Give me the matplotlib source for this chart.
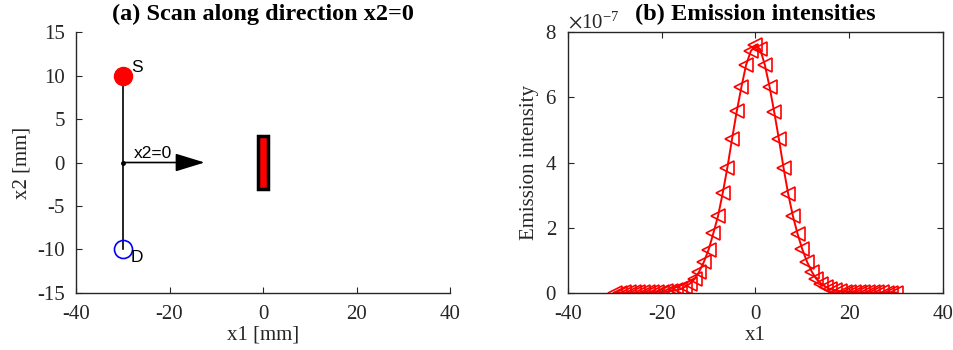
import matplotlib.pyplot as plt
import matplotlib.patches as patches
from matplotlib.ticker import ScalarFormatter
import numpy as np

plt.rcParams['font.family'] = ['Liberation Serif', 'DejaVu Serif']
plt.rcParams['mathtext.fontset'] = 'stix'
plt.rcParams['axes.unicode_minus'] = False

# source / detector geometry (mm)
src = (-30, 10)
det = (-30, -10)
scan_start = (-30, 0)
scan_end = (-12.5, 0)
inclusion_x = (-1, 1)
inclusion_y = (-3, 3)

# scan positions along x1 and measured emission intensity (x1e-7)
x1 = list(range(-30, 31))
intensity = [0.005, 0.006, 0.007, 0.008, 0.010, 0.012, 0.014, 0.017, 0.020, 0.025,
             0.030, 0.040, 0.055, 0.075, 0.11, 0.18, 0.28, 0.42, 0.65, 0.95,
             1.32, 1.82, 2.35, 3.05, 3.84, 4.72, 5.57, 6.32, 7.00, 7.42,
             7.60,
             7.48, 7.00, 6.33, 5.55, 4.72, 3.83, 3.02, 2.35, 1.80, 1.33,
             0.95, 0.65, 0.42, 0.28, 0.18, 0.11, 0.07, 0.045, 0.030, 0.022,
             0.017, 0.014, 0.012, 0.010, 0.009, 0.008, 0.007, 0.006, 0.005, 0.005]
scale = 1e-7

tick_color = '#262626'
fs = 15

fig = plt.figure(figsize=(9.54, 3.5), dpi=100)
ax1 = fig.add_axes([0.0797, 0.1637, 0.392, 0.744])
ax2 = fig.add_axes([0.5954, 0.1637, 0.393, 0.744])

# (a) geometry
ax1.plot([src[0], det[0]], [src[1], det[1]], color='black', lw=1.2, zorder=1)
ax1.plot(*src, 'o', ms=13, color='red', mec='red', zorder=2)
ax1.plot(*det, 'o', ms=13, mfc='none', mec='blue', mew=1.2, zorder=2)
ax1.plot(*scan_start, 'o', ms=2.5, color='black')
ax1.annotate('', xy=scan_end, xytext=scan_start,
             arrowprops=dict(arrowstyle='-|>,head_length=1.3,head_width=0.4',
                             color='black', lw=1.2, mutation_scale=14,
                             shrinkA=0, shrinkB=0))
ax1.text(scan_start[0] + 2.3, 0.5, 'x2=0', family='Liberation Sans', fontsize=12.5)
ax1.text(src[0] + 1.7, src[1] + 0.4, 'S', family='Liberation Sans', fontsize=12.5)
ax1.text(det[0] + 1.6, det[1] - 1.5, 'D', family='Liberation Sans', fontsize=12.5)
ax1.add_patch(patches.Rectangle((inclusion_x[0], inclusion_y[0]),
                                inclusion_x[1] - inclusion_x[0],
                                inclusion_y[1] - inclusion_y[0],
                                facecolor='red', edgecolor='black', lw=2.5))

ax1.set_xlim(-40, 40)
ax1.set_ylim(-15, 15)
ax1.set_xticks([-40, -20, 0, 20, 40])
ax1.set_yticks([-15, -10, -5, 0, 5, 10, 15])
ax1.spines['top'].set_visible(False)
ax1.spines['right'].set_visible(False)
ax1.set_xlabel('x1 [mm]', fontsize=fs, color=tick_color, labelpad=1)
ax1.set_ylabel('x2 [mm]', fontsize=fs, color=tick_color, labelpad=4)
ax1.set_title('(a) Scan along direction x2=0', fontsize=17.5, fontweight='bold', pad=9)

# (b) emission profile
ax2.plot(x1, np.array(intensity) * scale, '-<', color='red', lw=1.4,
         ms=10, mfc='none', mec='red', mew=1.2)
ax2.set_xlim(-40, 40)
ax2.set_ylim(0, 8e-7)
ax2.set_xticks([-40, -20, 0, 20, 40])
ax2.set_yticks(np.arange(0, 9, 2) * scale)
fmt = ScalarFormatter(useMathText=True)
fmt.set_powerlimits((0, 0))
ax2.yaxis.set_major_formatter(fmt)
ax2.yaxis.get_offset_text().set_fontsize(fs)
ax2.yaxis.get_offset_text().set_color(tick_color)
ax2.set_xlabel('x1', fontsize=fs, color=tick_color, labelpad=1)
ax2.set_ylabel('Emission intensity', fontsize=fs, color=tick_color, labelpad=4)
ax2.set_title('(b) Emission intensities', fontsize=17.5, fontweight='bold', pad=9)
ax2.tick_params(top=True, right=True)

for ax in (ax1, ax2):
    ax.tick_params(direction='in', length=4, width=0.8, labelsize=fs,
                   colors=tick_color)
    ax.tick_params(axis='x', pad=9)
    ax.tick_params(axis='y', pad=8)
    for s in ax.spines.values():
        s.set_linewidth(1.0)
        s.set_color(tick_color)

fig.savefig('out.png', dpi=100)
